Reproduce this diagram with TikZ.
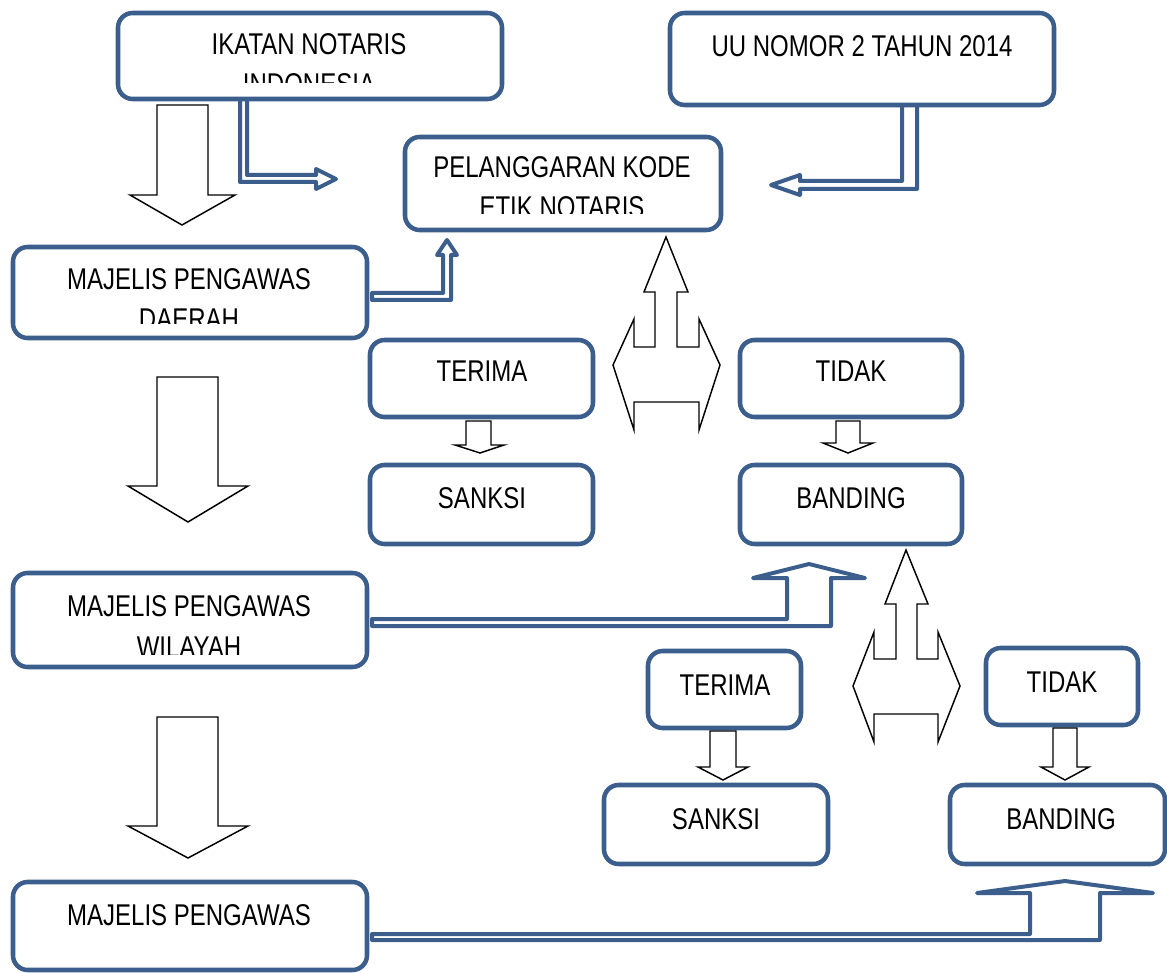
\documentclass[tikz,border=0pt]{standalone}
\usepackage{fontspec}
\setmainfont{Liberation Sans}[FakeStretch=0.8]
\usetikzlibrary{fit}
\definecolor{bl}{RGB}{59,94,140}
\begin{document}
\begin{tikzpicture}[x=0.75pt,y=-0.75pt,
  box/.style={draw=bl, line width=3.4pt, rounded corners=11pt, fill=white, inner sep=0pt, outer sep=0pt},
  txt/.style={font=\fontsize{22.5}{27}\selectfont, inner sep=0pt, anchor=base, text=black},
  blk/.style={draw=black, line width=1.1pt, fill=white, line join=miter},
  barrow/.style={draw=bl, line width=3pt, fill=white, line join=round, line cap=round}]
\clip (0,0) rectangle (1167,973);
\fill[white] (0,0) rectangle (1167,973);

% blue bent arrows
\draw[barrow] (247,97) -- (247,175) -- (316,175) -- (316,169) -- (336,179) -- (316,189) -- (316,182) -- (240,182) -- (240,97) -- cycle;
\draw[barrow] (902,103) -- (902,181) -- (800,181) -- (800,175) -- (771,185) -- (800,195) -- (800,189) -- (917,189) -- (917,103) -- cycle;
\draw[barrow] (372,293) -- (443,293) -- (443,255) -- (437,255) -- (447,240) -- (457,255) -- (451,255) -- (451,300) -- (372,300) -- cycle;
\draw[barrow] (372,619) -- (787,619) -- (787,578) -- (753,578) -- (809,564) -- (865,578) -- (831,578) -- (831,626) -- (372,626) -- cycle;
\draw[barrow] (372,934) -- (1030,934) -- (1030,893) -- (977,893) -- (1065,881) -- (1153,893) -- (1100,893) -- (1100,940) -- (372,940) -- cycle;

% boxes
\node[box, fit={(118,13) (502,99)}] (ikatan) {};
\node[box, fit={(670,13) (1054,105)}] (uu) {};
\node[box, fit={(405,137) (721,230)}] (pel) {};
\node[box, fit={(13,247) (367,338)}] (mpd) {};
\node[box, fit={(370,340) (593,417)}] (terima1) {};
\node[box, fit={(740,340) (962,417)}] (tidak1) {};
\node[box, fit={(370,465) (593,544)}] (sanksi1) {};
\node[box, fit={(740,465) (962,544)}] (banding1) {};
\node[box, fit={(13,573) (367,667)}] (mpw) {};
\node[box, fit={(648,651) (801,728)}] (terima2) {};
\node[box, fit={(986,648) (1138,725)}] (tidak2) {};
\node[box, fit={(604,785) (828,864)}] (sanksi2) {};
\node[box, fit={(950,785) (1165,864)}] (banding2) {};
\node[box, fit={(13,882) (367,970)}] (mp) {};

% texts
\node[txt] (t-ikatan) at (309,55) {IKATAN NOTARIS};
\begin{scope}
\clip (118,13) rectangle (502,83);
\node[txt] (t-ikatan2) at (309,95) {INDONESIA};
\end{scope}
\node[txt] (t-uu) at (862,57) {UU NOMOR 2 TAHUN 2014};
\node[txt] (t-pel) at (562,178) {PELANGGARAN KODE};
\begin{scope}
\clip (405,137) rectangle (721,214);
\node[txt] (t-pel2) at (562,218) {ETIK NOTARIS};
\end{scope}
\node[txt] (t-mpd) at (189,290) {MAJELIS PENGAWAS};
\begin{scope}
\clip (13,247) rectangle (367,324);
\node[txt] (t-mpd2) at (189,330) {DAERAH};
\end{scope}
\node[txt] (t-mpw) at (189,616) {MAJELIS PENGAWAS};
\begin{scope}
\clip (13,573) rectangle (367,654);
\node[txt] (t-mpw2) at (189,657) {WILAYAH};
\end{scope}
\node[txt] (t-mp) at (189,925) {MAJELIS PENGAWAS};
\node[txt] (t-terima1) at (482,382) {TERIMA};
\node[txt] (t-tidak1) at (851,382) {TIDAK};
\node[txt] (t-sanksi1) at (482,508) {SANKSI};
\node[txt] (t-banding1) at (851,508) {BANDING};
\node[txt] (t-terima2) at (725,695) {TERIMA};
\node[txt] (t-tidak2) at (1062,692) {TIDAK};
\node[txt] (t-sanksi2) at (716,829) {SANKSI};
\node[txt] (t-banding2) at (1061,829) {BANDING};

% black block arrows
\draw[blk] (157,105) -- (208,105) -- (208,195) -- (235,195) -- (182,225) -- (130,195) -- (157,195) -- cycle;
\draw[blk] (157,377) -- (218,377) -- (218,486) -- (248,486) -- (188,522) -- (128,486) -- (157,486) -- cycle;
\draw[blk] (157,717) -- (218,717) -- (218,826) -- (248,826) -- (188,858) -- (128,826) -- (157,826) -- cycle;
\draw[blk] (466,421) -- (491,421) -- (491,445) -- (504,445) -- (480,453) -- (455,445) -- (466,445) -- cycle;
\draw[blk] (836,421) -- (860,421) -- (860,443) -- (873,443) -- (848,453) -- (823,443) -- (836,443) -- cycle;
\draw[blk] (710,731) -- (736,731) -- (736,767) -- (748,767) -- (723,780) -- (698,767) -- (710,767) -- cycle;
\draw[blk] (1053,728) -- (1077,728) -- (1077,767) -- (1089,767) -- (1065,780) -- (1041,767) -- (1053,767) -- cycle;
\draw[blk] (666,237) -- (688,292) -- (677,292) -- (677,347) -- (699,347) -- (699,319) -- (720,365) -- (699,430) -- (699,402) -- (634,402) -- (634,430) -- (613,365) -- (634,319) -- (634,347) -- (655,347) -- (655,292) -- (644,292) -- cycle;
\draw[blk] (906,550) -- (928,604) -- (917,604) -- (917,659) -- (938,659) -- (938,632) -- (960,686) -- (938,742) -- (938,714) -- (874,714) -- (874,742) -- (853,686) -- (874,632) -- (874,659) -- (896,659) -- (896,604) -- (885,604) -- cycle;
\end{tikzpicture}
\end{document}
